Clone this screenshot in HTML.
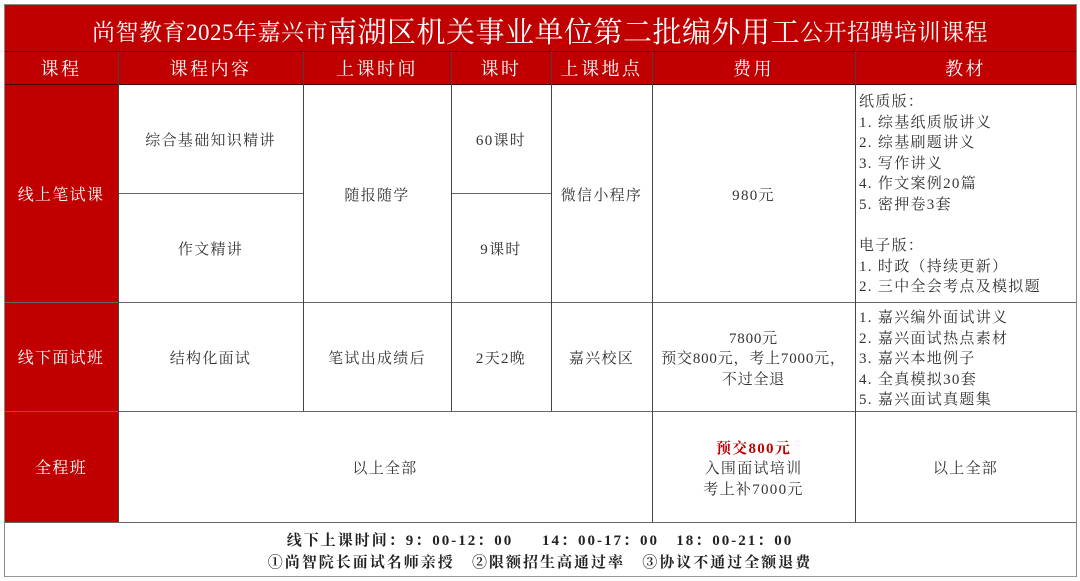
<!DOCTYPE html>
<html><head><meta charset="utf-8"><style>
*{margin:0;padding:0;box-sizing:border-box}
body{width:1080px;height:581px;background:#fff;position:relative;overflow:hidden;font-family:"Liberation Serif","Noto Serif CJK SC",serif;color:#333}
.r{position:absolute;background:#c00000}
.h{position:absolute;height:1px;background:#666}
.v{position:absolute;width:1px;background:#666}
.t{position:absolute;display:flex;align-items:center;justify-content:center;text-align:center;font-size:15px;line-height:20.5px;letter-spacing:1.3px;padding-top:6px}
.w{color:#fff}
.hd{color:#fff;font-size:18px;letter-spacing:2.5px;padding-top:4px}
.lst{position:absolute;left:859px;font-size:15px;line-height:20.6px;white-space:pre;letter-spacing:1.3px}
</style></head><body>
<div class="r" style="left:4px;top:4px;width:1072px;height:80px"></div>
<div class="r" style="left:4px;top:84px;width:114px;height:438px"></div>
<div class="h" style="left:4px;top:4px;width:1072px;background:#888"></div>
<div class="h" style="left:4px;top:51px;width:1072px;background:#600"></div>
<div class="h" style="left:4px;top:84px;width:1072px;background:#400"></div>
<div class="h" style="left:118px;top:193px;width:185px"></div>
<div class="h" style="left:451px;top:193px;width:100px"></div>
<div class="h" style="left:4px;top:302px;width:1072px"></div>
<div class="h" style="left:4px;top:411px;width:1072px"></div>
<div class="h" style="left:4px;top:522px;width:1072px"></div>
<div class="h" style="left:4px;top:576px;width:1072px;background:#999"></div>
<div class="v" style="left:4px;top:4px;height:573px;background:#888"></div>
<div class="v" style="left:1076px;top:4px;height:573px;background:#888"></div>
<div class="v" style="left:118px;top:51px;height:471px;background:#444"></div>
<div class="v" style="left:303px;top:51px;height:360px;background:#444"></div>
<div class="v" style="left:451px;top:51px;height:360px;background:#444"></div>
<div class="v" style="left:551px;top:51px;height:360px;background:#444"></div>
<div class="v" style="left:652px;top:51px;height:471px;background:#444"></div>
<div class="v" style="left:855px;top:51px;height:471px;background:#444"></div>

<div class="t w" style="left:4px;top:4px;width:1072px;height:47px;font-size:23px;white-space:nowrap;letter-spacing:0.5px;padding-top:12px">尚智教育2025年嘉兴市<span style="font-size:29px">南湖区机关事业单位第二批编外用工</span>公开招聘培训课程</div>
<div class="t hd" style="left:4px;top:51px;width:114px;height:33px">课程</div>
<div class="t hd" style="left:118px;top:51px;width:185px;height:33px">课程内容</div>
<div class="t hd" style="left:303px;top:51px;width:148px;height:33px">上课时间</div>
<div class="t hd" style="left:451px;top:51px;width:100px;height:33px">课时</div>
<div class="t hd" style="left:551px;top:51px;width:101px;height:33px">上课地点</div>
<div class="t hd" style="left:652px;top:51px;width:203px;height:33px">费用</div>
<div class="t hd" style="left:855px;top:51px;width:221px;height:33px">教材</div>

<div class="t w" style="left:4px;top:84px;width:114px;height:218px;font-size:16px">线上笔试课</div>
<div class="t w" style="left:4px;top:302px;width:114px;height:109px;font-size:16px">线下面试班</div>
<div class="t w" style="left:4px;top:411px;width:114px;height:111px;font-size:16px">全程班</div>

<div class="t" style="left:118px;top:84px;width:185px;height:109px">综合基础知识精讲</div>
<div class="t" style="left:118px;top:193px;width:185px;height:109px">作文精讲</div>
<div class="t" style="left:303px;top:84px;width:148px;height:218px">随报随学</div>
<div class="t" style="left:451px;top:84px;width:100px;height:109px">60课时</div>
<div class="t" style="left:451px;top:193px;width:100px;height:109px">9课时</div>
<div class="t" style="left:551px;top:84px;width:101px;height:218px">微信小程序</div>
<div class="t" style="left:652px;top:84px;width:203px;height:218px">980元</div>
<div class="lst" style="top:92px">纸质版：
1. 综基纸质版讲义
2. 综基刷题讲义
3. 写作讲义
4. 作文案例20篇
5. 密押卷3套

电子版：
1. 时政（持续更新）
2. 三中全会考点及模拟题</div>

<div class="t" style="left:118px;top:302px;width:185px;height:109px">结构化面试</div>
<div class="t" style="left:303px;top:302px;width:148px;height:109px">笔试出成绩后</div>
<div class="t" style="left:451px;top:302px;width:100px;height:109px">2天2晚</div>
<div class="t" style="left:551px;top:302px;width:101px;height:109px">嘉兴校区</div>
<div class="t" style="left:652px;top:302px;width:203px;height:109px;letter-spacing:0.8px">7800元<br>预交800元，考上7000元，<br>不过全退</div>
<div class="lst" style="top:308px">1. 嘉兴编外面试讲义
2. 嘉兴面试热点素材
3. 嘉兴本地例子
4. 全真模拟30套
5. 嘉兴面试真题集</div>

<div class="t" style="left:118px;top:411px;width:534px;height:111px">以上全部</div>
<div class="t" style="left:652px;top:411px;width:203px;height:111px"><span><span style="color:#c00000;font-weight:bold">预交800元</span><br>入围面试培训<br>考上补7000元</span></div>
<div class="t" style="left:855px;top:411px;width:221px;height:111px">以上全部</div>

<div class="t" style="left:4px;top:529px;width:1072px;height:22px;font-size:15px;font-weight:bold;color:#222;letter-spacing:2px;white-space:pre;padding-top:2px">线下上课时间：9：00-12：00     14：00-17：00   18：00-21：00</div>
<div class="t" style="left:4px;top:551px;width:1072px;height:22px;font-size:15px;font-weight:bold;color:#222;letter-spacing:2px;white-space:pre;padding-top:2px">①尚智院长面试名师亲授   ②限额招生高通过率   ③协议不通过全额退费</div>
</body></html>
